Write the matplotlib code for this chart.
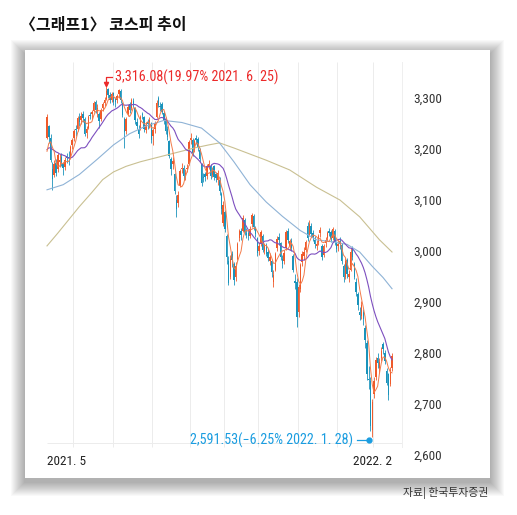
"""KOSPI candlestick chart, May 2021 - Feb 2022, with moving averages."""
import numpy as np
import pandas as pd
import matplotlib
matplotlib.use("Agg")
import matplotlib.pyplot as plt
from matplotlib import font_manager as fm
from matplotlib.patches import Rectangle
from matplotlib.transforms import blended_transform_factory

# trading days per month: May 2021 (from 5/10) ... Feb 2022 (to 2/17)
month_days = [15, 22, 22, 21, 19, 19, 22, 22, 20, 11]

# closes before the window, only used to warm up the short moving averages
pre_closes = [3152, 3185, 3197, 3209, 3214, 3213, 3234, 3188, 3194, 3201,
              3231, 3229, 3197, 3190, 3164, 3145, 3164, 3194, 3212]

opens = [
    3222, 3245, 3222, 3160, 3150, 3172, 3160, 3175, 3185, 3170, 3165, 3186, 3184, 3185, 3208,
    3222, 3240, 3240, 3262, 3256, 3268, 3258, 3232, 3242, 3266, 3268, 3275, 3292, 3275, 3268, 3258, 3280, 3290, 3298, 3318, 3306, 3296,
    3310, 3298, 3296, 3308, 3314, 3290, 3258, 3236, 3268, 3288, 3280, 3295, 3280, 3252, 3240, 3240, 3268, 3262, 3238, 3252, 3245, 3250,
    3225, 3240, 3262, 3300, 3285, 3288, 3270, 3258, 3240, 3215, 3180, 3170, 3150, 3100, 3095, 3128, 3160, 3162, 3150, 3160, 3170,
    3218, 3218, 3198, 3222, 3220, 3198, 3170, 3146, 3150, 3148, 3164, 3166, 3150, 3166, 3150, 3140, 3140, 3112, 3055,
    3076, 3030, 2980, 2950, 2995, 2975, 2950, 2985, 3025, 3040, 3040, 3060, 3035, 3036, 3030, 3052, 3068, 3045, 3025,
    3000, 3015, 3030, 3000, 3012, 2998, 2980, 2980, 2940, 2962, 3005, 3028, 3015, 2985, 2980, 3005, 3040, 3010, 3020, 2990, 2942, 2940,
    2880, 2925, 2978, 2990, 3002, 3050, 3032, 3050, 3036, 3022, 3010, 3018, 3035, 3010, 2992, 3015, 3026, 3040, 3038, 3026, 3040, 3015,
    3010, 3020, 3012, 2970, 2950, 2982, 2950, 2962, 3006, 2975, 2940, 2915, 2880, 2872, 2880, 2850, 2820, 2750, 2745, 2650,
    2720, 2752, 2790, 2770, 2790, 2818, 2800, 2765, 2758, 2740, 2770,
]
highs = [
    3268, 3248, 3230, 3175, 3178, 3180, 3192, 3190, 3192, 3175, 3185, 3192, 3196, 3208, 3222,
    3240, 3248, 3264, 3270, 3272, 3275, 3262, 3246, 3266, 3272, 3276, 3295, 3296, 3288, 3272, 3280, 3292, 3302, 3325, 3320, 3312, 3311,
    3312, 3302, 3308, 3318, 3318, 3292, 3262, 3262, 3288, 3292, 3300, 3300, 3282, 3260, 3248, 3266, 3272, 3264, 3252, 3258, 3262, 3252,
    3242, 3255, 3296, 3303, 3292, 3292, 3275, 3262, 3245, 3218, 3185, 3185, 3152, 3110, 3118, 3160, 3172, 3168, 3160, 3170, 3218,
    3232, 3222, 3220, 3228, 3224, 3202, 3172, 3152, 3155, 3170, 3178, 3170, 3165, 3168, 3155, 3158, 3145, 3115, 3098,
    3080, 3034, 2990, 2992, 3000, 2978, 2978, 3018, 3044, 3046, 3070, 3064, 3045, 3042, 3050, 3075, 3072, 3050, 3028,
    3018, 3042, 3034, 3016, 3016, 3004, 2996, 2984, 2962, 2998, 3030, 3036, 3018, 2992, 3002, 3041, 3045, 3024, 3026, 2994, 2955, 2948,
    2935, 2976, 3000, 3008, 3022, 3056, 3060, 3054, 3042, 3030, 3022, 3034, 3048, 3014, 3014, 3028, 3040, 3046, 3042, 3047, 3044, 3020,
    3022, 3028, 3015, 2975, 2986, 2986, 2962, 3005, 3010, 2978, 2948, 2920, 2890, 2902, 2886, 2854, 2825, 2775, 2752, 2710,
    2752, 2792, 2800, 2790, 2812, 2822, 2806, 2770, 2760, 2772, 2800,
]
lows = [
    3220, 3212, 3175, 3120, 3145, 3148, 3155, 3165, 3166, 3150, 3158, 3172, 3168, 3180, 3200,
    3215, 3226, 3236, 3245, 3250, 3252, 3225, 3222, 3240, 3258, 3258, 3272, 3270, 3262, 3242, 3255, 3275, 3285, 3296, 3300, 3290, 3292,
    3286, 3282, 3290, 3300, 3290, 3262, 3202, 3230, 3265, 3270, 3276, 3282, 3250, 3240, 3222, 3238, 3258, 3234, 3232, 3240, 3242, 3212,
    3208, 3232, 3260, 3282, 3275, 3268, 3250, 3230, 3218, 3182, 3150, 3160, 3112, 3066, 3086, 3125, 3152, 3140, 3140, 3155, 3168,
    3210, 3186, 3195, 3210, 3196, 3175, 3128, 3136, 3138, 3142, 3160, 3142, 3145, 3140, 3136, 3130, 3110, 3072, 3050,
    3037, 2975, 2933, 2945, 2968, 2934, 2942, 2982, 3020, 3022, 3038, 3032, 3025, 3022, 3026, 3048, 3042, 3028, 2990,
    2992, 3010, 2998, 2994, 2990, 2980, 2972, 2950, 2930, 2960, 3000, 3012, 2982, 2966, 2975, 3002, 3015, 3002, 3000, 2958, 2925, 2851,
    2870, 2920, 2970, 2982, 2998, 3020, 3030, 3028, 3020, 3006, 3002, 3012, 3028, 2982, 2988, 3008, 3020, 3030, 3018, 3022, 3012, 2998,
    3000, 3004, 2975, 2940, 2945, 2948, 2940, 2960, 2982, 2945, 2912, 2885, 2864, 2866, 2855, 2810, 2748, 2730, 2648, 2635,
    2712, 2748, 2770, 2760, 2784, 2798, 2778, 2738, 2708, 2736, 2765,
]
closes = [
    3262, 3224, 3178, 3141, 3170, 3152, 3189, 3179, 3173, 3162, 3179, 3182, 3182, 3204, 3218,
    3236, 3238, 3260, 3253, 3265, 3261, 3230, 3239, 3262, 3265, 3272, 3290, 3277, 3280, 3254, 3276, 3288, 3297, 3313, 3305, 3297, 3308,
    3293, 3293, 3304, 3315, 3296, 3266, 3233, 3259, 3283, 3277, 3297, 3289, 3257, 3246, 3230, 3263, 3267, 3239, 3247, 3250, 3256, 3217,
    3237, 3250, 3291, 3287, 3282, 3272, 3256, 3235, 3223, 3187, 3161, 3176, 3118, 3082, 3110, 3156, 3163, 3147, 3152, 3162, 3214,
    3222, 3192, 3216, 3218, 3203, 3180, 3134, 3144, 3146, 3166, 3170, 3148, 3159, 3146, 3143, 3152, 3118, 3082, 3090,
    3043, 2988, 2937, 2985, 2982, 2944, 2971, 3014, 3039, 3031, 3065, 3037, 3031, 3030, 3044, 3071, 3048, 3034, 2997,
    3010, 3037, 3002, 3010, 2995, 2986, 2988, 2958, 2953, 2995, 3024, 3021, 2988, 2974, 2997, 3037, 3021, 3019, 3005, 2963, 2938, 2871,
    2929, 2972, 2994, 2999, 3017, 3026, 3053, 3034, 3026, 3013, 3014, 3030, 3041, 2989, 3009, 3022, 3036, 3036, 3024, 3043, 3018, 3003,
    3014, 3014, 2980, 2949, 2981, 2955, 2955, 2998, 2988, 2950, 2920, 2895, 2874, 2894, 2866, 2826, 2758, 2747, 2657, 2704,
    2746, 2786, 2781, 2782, 2804, 2807, 2784, 2742, 2717, 2767, 2795,
]

# 60- and 120-day averages (day index, level)
ma60_day = [0, 9, 18, 28, 37, 46, 55, 65, 75, 86, 96, 104, 113, 122, 131, 141, 150, 159, 167, 174, 181, 187, 192]
ma60_val = [3120, 3130, 3150, 3180, 3208, 3230, 3245, 3256, 3252, 3241, 3212, 3175, 3130, 3096, 3068, 3040,
            3022, 3018, 3013, 2998, 2970, 2948, 2926]
ma120_day = [0, 6, 12, 18, 25, 31, 37, 44, 52, 62, 72, 82, 90, 96, 104, 113, 122, 135, 150, 163, 174, 185, 192]
ma120_val = [3010, 3035, 3061, 3087, 3115, 3140, 3155, 3166, 3175, 3184, 3193, 3202, 3208, 3212, 3202, 3190,
             3178, 3159, 3125, 3100, 3067, 3022, 2998]

y_ticks = [2600, 2700, 2800, 2900, 3000, 3100, 3200, 3300]

UP = "#ef5a2a"
DOWN = "#1a93bb"


def has_font(name):
    try:
        fm.findfont(fm.FontProperties(family=name), fallback_to_default=False)
        return True
    except ValueError:
        return False


def main():
    o, h, l, c = (np.array(a, dtype=float) for a in (opens, highs, lows, closes))
    n = len(c)
    assert n == sum(month_days) and len(o) == len(h) == len(l) == n
    x = np.arange(n)

    full = pd.Series(list(pre_closes) + list(closes), dtype=float)
    k = len(pre_closes)
    ma5 = full.rolling(5).mean().to_numpy()[k:]
    ma20 = full.rolling(20, min_periods=1).mean().to_numpy()[k:]

    # the numbers in the original use a condensed face
    narrow = [f for f in ("Liberation Sans Narrow", "Roboto Condensed", "Open Sans Condensed") if has_font(f)]
    scale = 1.0 if narrow else 0.86
    num_family = narrow[:1] + ["Roboto", "Noto Sans CJK KR", "DejaVu Sans"]

    W, H = 517, 515
    fig = plt.figure(figsize=(W / 100, H / 100), dpi=100)
    fig.patch.set_facecolor("white")
    plt.rcParams["font.family"] = num_family

    # panel with soft shadow
    px0, py0, px1, py1 = 25, 50, 490, 478
    for s in range(14, 0, -1):
        fig.patches.append(Rectangle(
            ((px0 - s) / W, 1 - (py1 + s + 4) / H), (px1 - px0 + 2 * s) / W, (py1 - py0 + 2 * s) / H,
            transform=fig.transFigure, facecolor="black", alpha=0.022, linewidth=0, zorder=-3))
    fig.patches.append(Rectangle((px0 / W, 1 - py1 / H), (px1 - px0) / W, (py1 - py0) / H,
                                 transform=fig.transFigure, facecolor="white", linewidth=0, zorder=-2))

    ax_l, ax_r, ax_t, ax_b = 45, 402, 62, 470
    ax = fig.add_axes([ax_l / W, 1 - ax_b / H, (ax_r - ax_l) / W, (ax_b - ax_t) / H])
    ax.set_facecolor("none")
    step = 1.797
    ax.set_xlim((ax_l - 47) / step, (ax_r - 47) / step)
    ax.set_ylim(3300 - (ax_b - 98) / 0.51, 3300 + (98 - ax_t) / 0.51)
    floor = 3300 - (443 - 98) / 0.51

    # month grid
    starts = np.cumsum(month_days)[:-1] - 0.5
    ax.vlines(starts, floor - 8, ax.get_ylim()[1], color="#ececec", lw=0.7, zorder=0)
    ax.hlines(floor, 0, ax.get_xlim()[1], color="#ececec", lw=0.7, zorder=0)
    for side in ["top", "left", "bottom"]:
        ax.spines[side].set_visible(False)
    ax.spines["right"].set_color("#efefef")
    ax.spines["right"].set_linewidth(0.7)
    ax.spines["right"].set_bounds(floor - 8, ax.get_ylim()[1])

    # candles
    colors = np.where(c >= o, UP, DOWN)
    ax.vlines(x, l, h, colors=colors, lw=0.6, zorder=2)
    body = np.maximum(np.abs(c - o), 1.5)
    ax.bar(x, body, bottom=np.minimum(o, c), width=0.8, color=colors, linewidth=0, zorder=2)

    # moving averages
    ax.plot(ma120_day, ma120_val, color="#c9c092", lw=0.8, zorder=3)
    ax.plot(ma60_day, ma60_val, color="#8fb3d6", lw=0.8, zorder=3)
    ax.plot(x, ma20, color="#7d4fbf", lw=0.8, zorder=3)
    ax.plot(x, ma5, color="#f37b4a", lw=0.7, zorder=3)

    # axis labels
    ax.yaxis.tick_right()
    ax.set_yticks(y_ticks)
    ax.set_yticklabels([f"{v:,}" for v in y_ticks])
    ax.tick_params(axis="y", length=0, pad=8, labelsize=9.5 * scale, labelcolor="#333333")
    ax.set_xticks([])
    tr = blended_transform_factory(ax.transData, ax.transAxes)
    ax.text(0, 0.022, "2021. 5", transform=tr, ha="left", va="center", fontsize=9.5 * scale, color="#222222")
    ax.text(n - 1, 0.022, "2022. 2", transform=tr, ha="right", va="center", fontsize=9.5 * scale, color="#222222")

    # peak annotation
    i_hi = int(np.argmax(h))
    hi = h[i_hi]
    red = "#ec2a2a"
    ax.plot([i_hi, i_hi, i_hi + 3.2], [hi + 1, hi + 16, hi + 16], color=red, lw=0.9, zorder=4)
    ax.plot(i_hi, hi + 2, marker="v", ms=3, color=red, zorder=4)
    ax.text(i_hi + 5, hi + 16, "3,316.08(19.97% 2021. 6. 25)", ha="left", va="center",
            fontsize=10.2 * scale, color=red)

    # low annotation
    i_lo = int(np.argmin(l))
    lo = l[i_lo] - 6
    blue = "#1b9de0"
    ax.plot([i_lo - 8.5, i_lo - 2], [lo, lo], color=blue, lw=0.9, zorder=4)
    ax.plot(i_lo - 2, lo, marker="o", ms=3.5, color=blue, zorder=4)
    ax.text(i_lo - 10.5, lo, "2,591.53(\u22126.25% 2022. 1. 28)", ha="right", va="center",
            fontsize=10.2 * scale, color=blue)

    fig.text(20 / W, 1 - 25 / H, "〈그래프1〉 코스피 추이", ha="left", va="center", fontsize=11.5,
             fontweight="bold", family=["Noto Sans CJK KR"], color="#111111")
    fig.text(488 / W, 1 - 493 / H, "자료| 한국투자증권", ha="right", va="center", fontsize=7.8,
             family=["Noto Sans CJK KR"], color="#333333")

    fig.savefig("out.png", dpi=100)


if __name__ == "__main__":
    main()
